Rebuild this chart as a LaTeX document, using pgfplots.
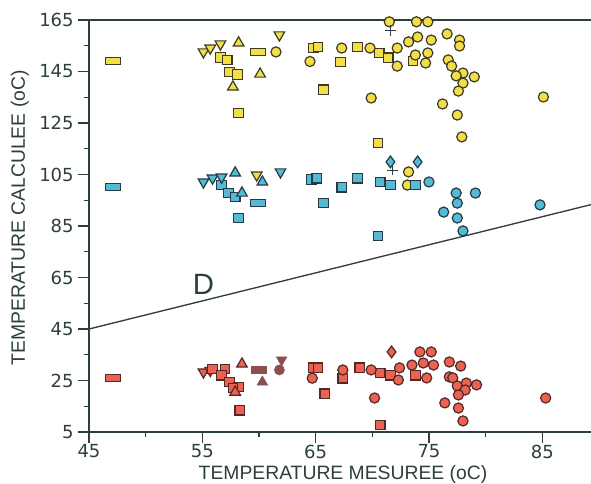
\documentclass[border=0pt]{standalone}
\usepackage{fontspec}
\setmainfont{Liberation Sans}
\newfontfamily\tickfont{DejaVu Sans}
\usepackage{pgfplots}
\pgfplotsset{compat=1.18}
\definecolor{axcol}{RGB}{45,62,62}
\definecolor{yel}{RGB}{242,222,72}
\definecolor{yedge}{RGB}{60,58,36}
\definecolor{blu}{RGB}{84,186,214}
\definecolor{bedge}{RGB}{38,58,70}
\definecolor{red}{RGB}{236,98,82}
\definecolor{redge}{RGB}{82,40,40}
\definecolor{brn}{RGB}{140,78,78}
\pgfplotsset{
  ym/.style={only marks, mark options={fill=yel, draw=yedge, line width=0.9pt}},
  bm/.style={only marks, mark options={fill=blu, draw=bedge, line width=0.9pt}},
  rm/.style={only marks, mark options={fill=red, draw=redge, line width=0.9pt}},
  brm/.style={only marks, mark options={fill=brn, draw=brn, line width=0.4pt}},
  sq/.style={mark=square*, mark size=3.6pt},
  rect/.style={mark=square*, mark size=3.6pt, every mark/.append style={xscale=1.6, yscale=0.75, line width=0.7pt}},
  ci/.style={mark=*, mark size=3.8pt},
  tu/.style={mark=triangle*, mark size=4.6pt},
  td/.style={mark=triangle*, mark size=4.6pt, every mark/.append style={rotate=180}},
  di/.style={mark=diamond*, mark size=4.4pt},
}
\begin{document}
\begin{tikzpicture}
\begin{axis}[
  at={(0,0)}, anchor=south west,
  scale only axis, width=376.5pt, height=309pt,
  xmin=45, xmax=89.3, ymin=5, ymax=165,
  xtick={45,55,65,75,85}, minor xtick={50,60,70,80},
  ytick={5,25,45,65,85,105,125,145,165}, minor ytick={15,35,55,75,95,115,135,155},
  axis x line=box, axis y line=left, xtick pos=left,
  axis line style={-, line width=1pt, color=axcol},
  tick align=outside, major tick length=8pt, minor tick length=4pt,
  every tick/.style={axcol, line width=0.9pt},
  /pgf/number format/assume math mode=true,
  ticklabel style={font=\tickfont\fontsize{13.5}{16}\selectfont, text=axcol},
  xticklabel style={yshift=2pt},
  xlabel={TEMPERATURE MESUREE (oC)},
  ylabel={TEMPERATURE CALCULEE (oC)},
  label style={font=\fontsize{14.5}{17}\selectfont, text=axcol},
  xlabel style={at={(axis description cs:0.506,-0.103)}, anchor=center},
  ylabel style={at={(axis description cs:-0.1375,0.52)}, anchor=center},
]
% line D
\addplot[no marks, color=axcol, line width=1pt] coordinates {(45,45) (89.3,93.3)};
\node[text=axcol, font=\fontsize{22}{24}\selectfont] at (axis cs:55.1,62.5) {D};

% ---------------- yellow ----------------
\addplot[ym, rect] coordinates {(47.1,149.1) (59.9,152.6)};
\addplot[ym, sq] coordinates {(56.6,150.4) (57.2,149.5) (57.4,144.8) (58.1,143.8) (58.2,128.9)
  (64.8,154.1) (65.2,154.5) (65.7,137.9) (67.2,148.7) (68.7,154.5) (70.6,152.2)
  (71.4,150.3) (73.6,149.1) (70.5,117.2)};
\addplot[ym, td] coordinates {(55.1,152.6) (55.7,154.1) (56.6,155.7) (61.8,159.2) (59.8,104.8)};
\addplot[ym, tu] coordinates {(58.2,156.1) (60.1,144.0) (57.7,139.0)};
\addplot[ym, ci] coordinates {(61.5,152.6) (64.5,148.9) (67.3,154.1) (69.8,154.1) (69.9,134.7)
  (71.5,164.3) (72.2,154.1) (72.2,147.1) (73.2,156.5) (74.0,158.4) (75.2,157.2)
  (73.9,164.3) (74.9,164.3) (74.9,152.2) (73.8,151.4) (74.7,148.3)
  (76.6,159.6) (77.7,157.2) (77.7,154.9) (76.7,149.5) (77.0,147.1) (78.0,144.4)
  (77.4,143.3) (79.0,142.9) (78.0,140.5) (77.6,137.4) (76.2,132.4) (77.5,128.1)
  (77.9,119.6) (85.1,135.1) (73.2,106.0) (73.1,100.9)};
\addplot[only marks, mark=+, mark size=4pt, mark options={draw=axcol, line width=0.8pt}] coordinates {(71.6,161.0) (71.8,106.7)};

% ---------------- blue ----------------
\addplot[bm, rect] coordinates {(47.1,100.1) (59.9,93.9)};
\addplot[bm, sq] coordinates {(56.7,100.9) (57.3,97.8) (57.9,96.3) (58.2,88.1) (64.6,103.0)
  (65.1,103.6) (65.7,93.9) (67.3,100.1) (68.7,103.6) (70.7,102.1) (71.6,100.9)
  (73.8,100.9) (70.5,81.1)};
\addplot[bm, td] coordinates {(55.1,102.1) (55.9,103.6) (56.7,104.0) (61.9,106.0)};
\addplot[bm, tu] coordinates {(57.9,105.6) (58.5,97.8) (60.3,102.1)};
\addplot[bm, ci] coordinates {(75.0,102.1) (77.4,97.8) (79.1,97.8) (77.5,93.9) (76.3,90.4)
  (77.5,88.1) (78.0,83.1) (84.8,93.2)};
\addplot[bm, di] coordinates {(71.6,109.9) (74.0,109.9)};

% ---------------- red ----------------
\addplot[rm, rect] coordinates {(47.1,26.0)};
\addplot[rm, td] coordinates {(55.1,28.3) (55.7,28.9)};
\addplot[rm, sq] coordinates {(55.9,29.5) (57.0,29.5) (56.7,27.1) (57.4,24.4) (58.2,22.5)
  (57.7,22.1) (58.3,13.5) (64.8,29.9) (65.2,29.9) (65.8,19.8) (67.4,25.9) (68.9,29.9)
  (70.7,27.9) (71.6,27.1) (73.8,27.1) (70.7,7.7)};
\addplot[rm, tu] coordinates {(57.9,20.5) (58.5,31.4)};
\addplot[rm, ci] coordinates {(64.7,25.9) (67.4,29.1) (69.9,29.1) (72.3,25.2) (72.4,29.9)
  (70.2,18.2) (73.5,31.0) (74.2,36.1) (75.2,36.1) (74.5,31.8) (75.4,31.0) (74.8,26.0)
  (76.8,32.2) (77.8,30.6) (76.8,26.4) (77.1,26.0) (77.5,22.9) (78.3,24.0) (79.2,23.3)
  (78.2,21.3) (77.6,19.4) (76.4,16.3) (77.6,14.3) (78.0,9.3) (85.3,18.2)};
\addplot[rm, di] coordinates {(71.7,36.1)};
\addplot[brm, rect] coordinates {(60.0,29.1)};
\addplot[brm, tu] coordinates {(60.3,24.4)};
\addplot[brm, td] coordinates {(62.0,33.0)};
\addplot[brm, ci] coordinates {(61.8,29.1)};
\end{axis}
\pgfresetboundingbox
\path (-66.75pt,-38.25pt) rectangle (376.5pt,324pt);
\end{tikzpicture}
\end{document}
